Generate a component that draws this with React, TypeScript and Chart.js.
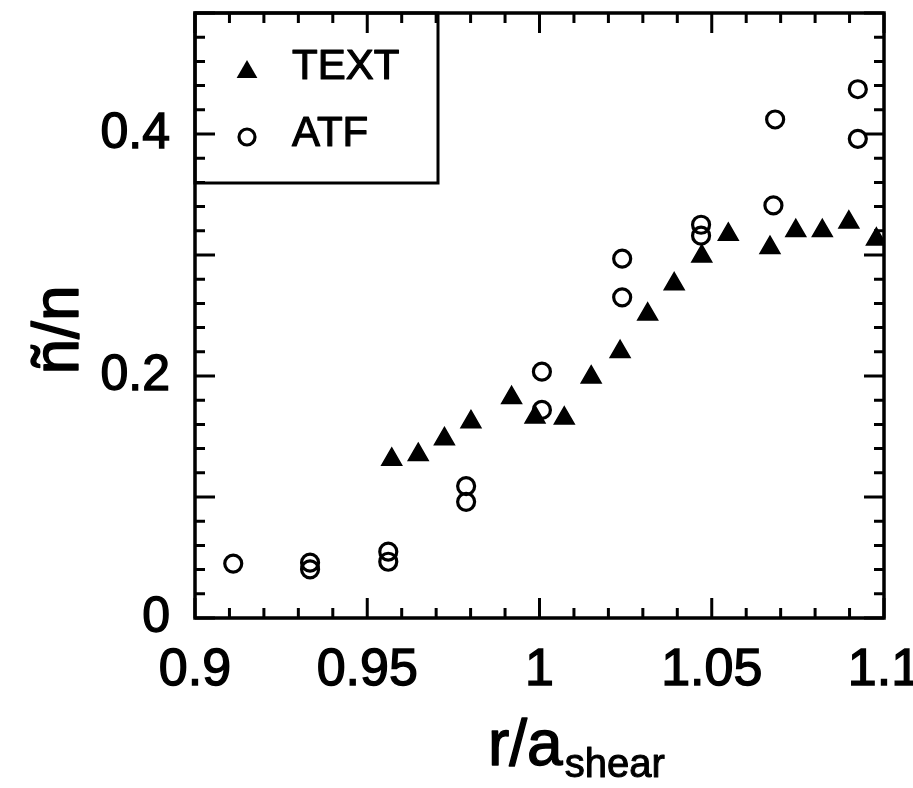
import React, { useEffect, useRef } from 'react';
import { Chart, registerables } from 'chart.js';

Chart.register(...registerables);

const FONT = '"Liberation Sans", Arial, Helvetica, sans-serif';

// Series: TEXT (filled triangles)
const textLabel = 'TEXT';
const textX = [0.9571, 0.9648, 0.9724, 0.9801, 0.9919, 0.9987, 1.0072, 1.015, 1.0234, 1.0314, 1.0391, 1.0471, 1.0548, 1.0669, 1.0744, 1.0821, 1.0898, 1.0978];
const textY = [0.131, 0.135, 0.148, 0.162, 0.182, 0.166, 0.165, 0.199, 0.22, 0.251, 0.276, 0.299, 0.317, 0.306, 0.32, 0.32, 0.327, 0.313];

// Series: ATF (open circles)
const atfLabel = 'ATF';
const atfX = [0.9111, 0.9334, 0.9334, 0.9561, 0.9561, 0.9787, 0.9787, 1.0007, 1.0007, 1.024, 1.024, 1.0469, 1.0469, 1.0679, 1.0684, 1.0924, 1.0924];
const atfY = [0.045, 0.0457, 0.0402, 0.0548, 0.0465, 0.109, 0.096, 0.2036, 0.172, 0.297, 0.265, 0.325, 0.316, 0.341, 0.412, 0.437, 0.396];

// Axes
const xMin = 0.9;
const xMax = 1.1;
const yMin = 0;
const yMax = 0.5;
const xTickLabels = ['0.9', '0.95', '1', '1.05', '1.1'];
const yTickLabels = ['0', '0.2', '0.4'];
const xTitleMain = 'r/a';
const xTitleSub = 'shear';
const yTitle = 'ñ/n';

const isMult = (v: number, step: number) => Math.abs(v / step - Math.round(v / step)) < 1e-6;
const findLabel = (labels: string[], v: number) => {
  const f = labels.find((l) => Math.abs(Number(l) - v) < 1e-6);
  return f === undefined ? '' : f;
};

const boldText = (ctx: CanvasRenderingContext2D, s: string, x: number, y: number, lw: number) => {
  ctx.lineWidth = lw;
  ctx.lineJoin = 'round';
  ctx.strokeText(s, x, y);
  ctx.fillText(s, x, y);
};

const decorPlugin = {
  id: 'decor',
  afterDraw(chart: any) {
    const { ctx, chartArea: a, scales } = chart;
    const xs = scales.x;
    const ys = scales.y;
    ctx.save();
    ctx.strokeStyle = '#000';
    ctx.fillStyle = '#000';

    // frame
    ctx.lineWidth = 3.5;
    ctx.strokeRect(a.left, a.top, a.right - a.left, a.bottom - a.top);

    // inward ticks on all sides
    ctx.lineWidth = 3;
    ctx.beginPath();
    xs.ticks.forEach((t: any) => {
      const px = xs.getPixelForValue(t.value);
      const len = isMult(t.value, 0.05) ? 20 : 10;
      ctx.moveTo(px, a.bottom);
      ctx.lineTo(px, a.bottom - len);
      ctx.moveTo(px, a.top);
      ctx.lineTo(px, a.top + len);
    });
    ys.ticks.forEach((t: any) => {
      const py = ys.getPixelForValue(t.value);
      const len = isMult(t.value, 0.1) ? 20 : 10;
      ctx.moveTo(a.left, py);
      ctx.lineTo(a.left + len, py);
      ctx.moveTo(a.right, py);
      ctx.lineTo(a.right - len, py);
    });
    ctx.stroke();

    // legend box
    ctx.lineWidth = 3;
    ctx.strokeRect(a.left, a.top, 243, 170);
    const ds = chart.data.datasets;
    const rows = [72, 137];
    ctx.font = `42px ${FONT}`;
    ctx.textAlign = 'left';
    ctx.textBaseline = 'middle';
    ds.forEach((d: any, i: number) => {
      const cx = 247;
      const cy = rows[i];
      ctx.beginPath();
      if (d.pointStyle === 'triangle') {
        const r = 12;
        ctx.moveTo(cx, cy - r);
        ctx.lineTo(cx + r * Math.sin((2 * Math.PI) / 3), cy + r / 2);
        ctx.lineTo(cx - r * Math.sin((2 * Math.PI) / 3), cy + r / 2);
        ctx.closePath();
        ctx.fill();
      } else {
        ctx.lineWidth = 3.2;
        ctx.arc(cx, cy, 8, 0, Math.PI * 2);
        ctx.stroke();
      }
      boldText(ctx, d.label, 292, i === 0 ? 67 : 134, 1.2);
    });

    // x title
    ctx.textBaseline = 'alphabetic';
    ctx.font = `64px ${FONT}`;
    const x0 = 488;
    boldText(ctx, xTitleMain, x0, 765, 1.4);
    const w = ctx.measureText(xTitleMain).width;
    ctx.font = `40px ${FONT}`;
    boldText(ctx, xTitleSub, x0 + w + 2, 777, 1);

    // y title
    ctx.translate(78, 330);
    ctx.rotate(-Math.PI / 2);
    ctx.textAlign = 'center';
    ctx.font = `64px ${FONT}`;
    boldText(ctx, yTitle, 0, 0, 1.4);

    ctx.restore();
  },
};

export default function App() {
  const ref = useRef<HTMLCanvasElement | null>(null);

  useEffect(() => {
    if (!ref.current) return;
    const chart = new Chart(ref.current, {
      type: 'scatter',
      data: {
        datasets: [
          {
            label: textLabel,
            data: textX.map((x, i) => ({ x, y: textY[i] })),
            pointStyle: 'triangle',
            pointRadius: 11.5,
            backgroundColor: '#000',
            borderColor: '#000',
            borderWidth: 1.5,
          },
          {
            label: atfLabel,
            data: atfX.map((x, i) => ({ x, y: atfY[i] })),
            pointStyle: 'circle',
            pointRadius: 8.5,
            backgroundColor: 'rgba(0,0,0,0)',
            borderColor: '#000',
            borderWidth: 3.2,
          },
        ],
      },
      options: {
        responsive: false,
        animation: false,
        events: [],
        devicePixelRatio: 1,
        layout: { padding: { left: 0, right: 29, top: 13, bottom: 0 } },
        plugins: {
          legend: { display: false },
          tooltip: { enabled: false },
        },
        scales: {
          x: {
            type: 'linear',
            min: xMin,
            max: xMax,
            grid: { display: false, drawTicks: false },
            border: { display: false },
            ticks: {
              stepSize: 0.01,
              autoSkip: false,
              maxRotation: 0,
              minRotation: 0,
              padding: 21,
              color: '#000',
              textStrokeColor: '#000',
              textStrokeWidth: 1.4,
              font: { family: FONT, size: 52 },
              callback: (v: any) => findLabel(xTickLabels, Number(v)),
            },
            afterFit: (s: any) => {
              s.height = 170;
              s.paddingLeft = 0;
              s.paddingRight = 0;
            },
          },
          y: {
            type: 'linear',
            min: yMin,
            max: yMax,
            grid: { display: false, drawTicks: false },
            border: { display: false },
            ticks: {
              stepSize: 0.02,
              autoSkip: false,
              padding: 25,
              color: '#000',
              textStrokeColor: '#000',
              textStrokeWidth: 1.4,
              font: { family: FONT, size: 50 },
              callback: (v: any) => findLabel(yTickLabels, Number(v)),
            },
            afterFit: (s: any) => {
              s.width = 195;
              s.paddingTop = 0;
              s.paddingBottom = 0;
            },
          },
        },
      },
      plugins: [decorPlugin],
    });
    return () => chart.destroy();
  }, []);

  return (
    <div style={{ position: 'absolute', left: 0, top: 0, width: 913, height: 788, background: '#fff' }}>
      <canvas ref={ref} width={913} height={788} style={{ display: 'block' }} />
    </div>
  );
}
